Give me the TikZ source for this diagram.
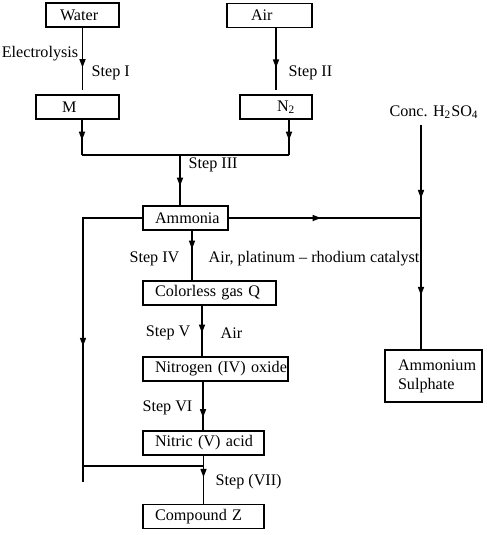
\documentclass[tikz,border=0pt]{standalone}
\usepackage{fontspec}
\setmainfont{Liberation Serif}
\usetikzlibrary{arrows.meta,decorations.markings}

\begin{document}
\begin{tikzpicture}[
    x=0.02cm,y=-0.02cm,line width=0.9pt,
    font=\fontsize{9.2pt}{10.8pt}\selectfont,
    pad/.code={\def\boxpad{#1}},
    box/.style={draw, minimum height=0.48cm, inner xsep=0.02cm, inner ysep=0pt, text width=#1, align=left,
        pad=0.22cm, execute at begin node=\hspace*{\boxpad}},
    flow/.style={postaction={decorate,decoration={markings,
        mark=at position #1 with {\arrow{Triangle[length=1.7mm,width=1.2mm]}}}}}
    ]
    \useasboundingbox (0,0) rectangle (487,535);
    \node[box=1.42cm, pad=0.26cm] (water) at (82.5,15) {Water};
    \node[box=1.66cm, pad=0.46cm] (air) at (269.5,15.5) {Air};
    \node[box=1.62cm, pad=0.5cm] (m) at (77.5,107) {M};
    \node[box=1.40cm, pad=0.72cm] (n2) at (276,107) {N\textsubscript{2}};
    \node[box=1.66cm] (ammonia) at (185.5,218) {Ammonia};
    \node[box=2.62cm] (gasq) at (209.5,293) {Colorless gas Q};
    \node[box=2.86cm] (no2) at (215.5,369) {Nitrogen (IV) oxide};
    \node[box=2.38cm] (nitric) at (203.5,443) {Nitric (V) acid};
    \node[box=2.38cm] (compz) at (203.5,516.5) {Compound Z};
    \node[box=1.90cm, pad=0.24cm, minimum height=1.04cm] (sulphate) at (433.5,376) {Ammonium\\\hspace*{0.24cm}Sulphate};
    \node (conc) at (434,112) {Conc. H\textsubscript{2}SO\textsubscript{4}};

    \node (electrolysis) at (40,54) {Electrolysis};
    \node[anchor=west] (step1) at (85,73) {Step I};
    \node[anchor=west] (step2) at (282,73) {Step II};
    \node[anchor=west] (step3) at (182,165) {Step III};
    \node[anchor=east] (step4) at (186,259) {Step IV};
    \node[anchor=west] (catalyst) at (202,259) {Air, platinum -- rhodium catalyst};
    \node[anchor=east] (step5) at (197,333) {Step V};
    \node[anchor=west] (air5) at (214,333) {Air};
    \node[anchor=east] (step6) at (199,408) {Step VI};
    \node[anchor=west] (step7) at (209,482) {Step (VII)};

    \coordinate (tl) at (82,155);
    \coordinate (tr) at (289,155);
    \coordinate (tm) at (180,155);
    \coordinate (rj) at (421,218);
    \coordinate (lj) at (83,466);
    \coordinate (lb) at (83,482);

    \draw[flow=0.6, shorten >=0.08cm] (water.south) -- (water.south |- m.north);
    \draw[flow=0.6, shorten >=0.08cm] (air.south -| n2.north) -- (n2.north);
    \draw[flow=0.58] (m.south -| tl) -- (tl);
    \draw[flow=0.58] (n2.south -| tr) -- (tr);
    \draw (tl) -- (tr);
    \draw[flow=0.62] (tm) -- (tm |- ammonia.north);
    \draw[flow=0.48] (ammonia.east) -- (rj);
    \draw[flow=0.58] (ammonia.west) -| (lb);
    \draw[flow=0.79] (conc.south -| rj) -- (rj);
    \draw[flow=0.59] (rj) -- (rj |- sulphate.north);
    \draw[flow=0.37] ([xshift=0.13cm]ammonia.south) -- ([xshift=0.13cm]ammonia.south |- gasq.north);
    \draw[flow=0.54] ([xshift=-0.15cm]gasq.south) -- ([xshift=-0.15cm]gasq.south |- no2.north);
    \draw[flow=0.74] ([xshift=-0.25cm]no2.south) -- ([xshift=-0.25cm]no2.south |- nitric.north);
    \draw[flow=0.45] (nitric.south) -- (compz.north);
    \draw (lj) -- (nitric.south |- lj);
  \end{tikzpicture}
\end{document}
